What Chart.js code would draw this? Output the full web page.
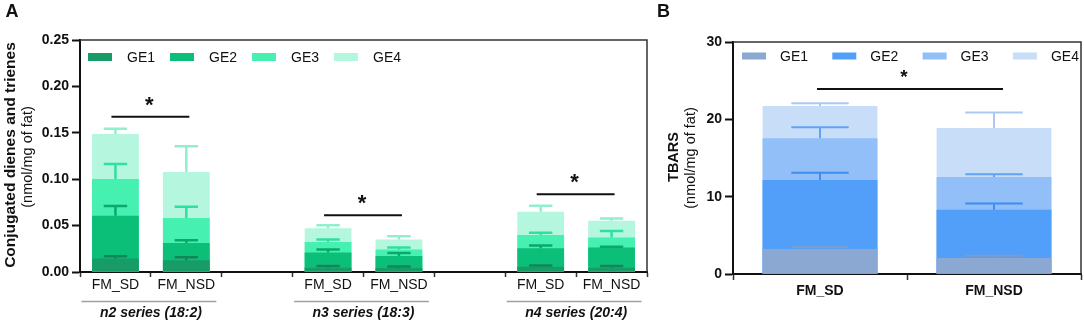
<!DOCTYPE html>
<html>
<head>
<meta charset="utf-8">
<script src="https://cdn.jsdelivr.net/npm/chart.js@4.4.1/dist/chart.umd.min.js"></script>
<style>
  html, body { margin: 0; padding: 0; background: #fff; }
  #wrap { position: relative; width: 1084px; height: 326px; overflow: hidden; }
  .pane { position: absolute; top: 0; height: 326px; }
  #pa { left: 0; width: 660px; }
  #pb { left: 655px; width: 429px; }
</style>
</head>
<body>
<div id="wrap">
  <div class="pane" id="pa"><canvas id="ca" width="660" height="326"></canvas></div>
  <div class="pane" id="pb"><canvas id="cb" width="429" height="326"></canvas></div>
</div>
<script>
/* panel A: conjugated dienes and trienes, panel B: TBARS */
const FONT = '"Liberation Sans", Arial, Helvetica, sans-serif';
const seriesNames = ["GE1", "GE2", "GE3", "GE4"];

// panel A (bars overlap, values are the top of each layer)
const catsA = ["FM_SD", "FM_NSD", "", "FM_SD", "FM_NSD", "", "FM_SD", "FM_NSD"];
const groupsA = ["n2 series (18:2)", "n3 series (18:3)", "n4 series (20:4)"];
const ticksA = [0, 0.05, 0.1, 0.15, 0.2, 0.25];
const ge1A = [0.0145, 0.0126, null, 0.0047, 0.0043, null, 0.0056, 0.0047];
const ge2A = [0.0605, 0.0313, null, 0.0210, 0.0173, null, 0.0255, 0.0263];
const ge3A = [0.1001, 0.0583, null, 0.0324, 0.0242, null, 0.0398, 0.0371];
const ge4A = [0.1487, 0.1077, null, 0.0472, 0.0350, null, 0.0648, 0.0551];
const sd1A = [0.0025, 0.0033, null, 0.0018, 0.0015, null, 0.0014, 0.0018];
const sd2A = [0.0105, 0.0029, null, 0.0032, 0.0032, null, 0.0030, 0.0008];
const sd3A = [0.0162, 0.0119, null, 0.0026, 0.0021, null, 0.0025, 0.0072];
const sd4A = [0.0057, 0.0277, null, 0.0032, 0.0036, null, 0.0065, 0.0026];
const sigA = [[0, 1, 0.1674], [3, 4, 0.0612], [6, 7, 0.0839]];

// panel B
const catsB = ["FM_SD", "FM_NSD"];
const ticksB = [0, 10, 20, 30];
const ge1B = [3.22, 2.06];
const ge2B = [12.15, 8.32];
const ge3B = [17.54, 12.54];
const ge4B = [21.72, 18.87];
const sd1B = [0.26, 0.31];
const sd2B = [0.95, 0.81];
const sd3B = [1.43, 0.35];
const sd4B = [0.35, 2.00];
const sigB = [[0, 1, 23.92]];

const greens = ["#179c68", "#0bbf78", "#45f0b0", "#b5f6de"];
const greensErr = ["#12865a", "#0aa86a", "#30e0a0", "#8ff0cb"];
const blues = ["#8aa8d2", "#529ff9", "#92bff7", "#c8ddf8"];
const bluesErr = ["#7d9cc8", "#3d8ef0", "#5ea4f5", "#a9c9f3"];

const overlay = {
  id: "overlay",
  afterDatasetsDraw(chart, args, o) {
    const ctx = chart.ctx, y = chart.scales.y;
    ctx.save();
    chart.data.datasets.forEach((ds, i) => {
      const meta = chart.getDatasetMeta(i);
      ctx.strokeStyle = o.errColors[i];
      ctx.lineWidth = o.errWidth;
      ds.data.forEach((v, j) => {
        if (v == null) return;
        const bar = meta.data[j];
        const y0 = y.getPixelForValue(v), y1 = y.getPixelForValue(v + o.errors[i][j]);
        const hw = bar.width / 4;
        ctx.beginPath();
        ctx.moveTo(bar.x, y0); ctx.lineTo(bar.x, y1);
        ctx.moveTo(bar.x - hw, y1); ctx.lineTo(bar.x + hw, y1);
        ctx.stroke();
      });
    });
    ctx.restore();
  },
  afterDraw(chart, args, o) {
    const ctx = chart.ctx, a = chart.chartArea, x = chart.scales.x, y = chart.scales.y;
    ctx.save();
    // box top + right
    ctx.strokeStyle = "#333"; ctx.lineWidth = 1.5;
    ctx.beginPath();
    ctx.moveTo(a.left, a.top); ctx.lineTo(a.right, a.top); ctx.lineTo(a.right, a.bottom);
    ctx.stroke();

    // legend inside plot
    const L = o.legend;
    ctx.font = "14px " + FONT; ctx.textBaseline = "middle"; ctx.textAlign = "left";
    chart.data.datasets.forEach((ds, i) => {
      const bx = a.left + L.x0 + i * L.step, by = a.top + L.dy;
      ctx.fillStyle = ds.backgroundColor;
      ctx.fillRect(bx, by - L.h / 2, 24, L.h);
      ctx.fillStyle = "#111";
      ctx.fillText(ds.label, bx + L.tx, by + 1);
    });

    // significance lines
    ctx.strokeStyle = "#111"; ctx.fillStyle = "#111"; ctx.lineWidth = 2;
    o.sig.forEach(([i0, i1, v]) => {
      const x0 = x.getPixelForTick(i0) + o.sigPad[0], x1 = x.getPixelForTick(i1) + o.sigPad[1];
      const ly = y.getPixelForValue(v);
      ctx.beginPath(); ctx.moveTo(x0, ly); ctx.lineTo(x1, ly); ctx.stroke();
      ctx.font = "bold " + o.starSize + "px " + FONT;
      ctx.textAlign = "center"; ctx.textBaseline = "alphabetic";
      ctx.fillText("*", (x0 + x1) / 2 + o.starDx, ly - o.starLift);
    });

    // group labels under the axis
    if (o.groups) {
      o.groups.forEach((g, k) => {
        const c0 = x.getPixelForTick(3 * k), c1 = x.getPixelForTick(3 * k + 1);
        ctx.strokeStyle = "#a0a0a0"; ctx.lineWidth = 1.5;
        ctx.beginPath(); ctx.moveTo(c0 - 34, 301.5); ctx.lineTo(c1 + 30, 301.5); ctx.stroke();
        ctx.fillStyle = "#111";
        ctx.font = "italic bold 14px " + FONT;
        ctx.textAlign = "center"; ctx.textBaseline = "middle";
        ctx.fillText(g, (c0 + c1) / 2, 313);
      });
    }

    // y titles + panel letter
    ctx.fillStyle = "#111"; ctx.textAlign = "center"; ctx.textBaseline = "middle";
    o.titles.forEach((t) => {
      ctx.save();
      ctx.translate(t.x, t.y); ctx.rotate(-Math.PI / 2);
      ctx.font = t.font + " " + FONT;
      ctx.fillText(t.text, 0, 0);
      ctx.restore();
    });
    ctx.font = "bold 18px " + FONT;
    ctx.fillText(o.letter[0], o.letter[1], o.letter[2]);
    ctx.restore();
  },
};

function makeSets(vals, colors) {
  return vals.map((d, i) => ({
    label: seriesNames[i],
    data: d,
    backgroundColor: colors[i],
    borderWidth: 0,
    grouped: false,
    barPercentage: 0.66,
    categoryPercentage: 1,
  }));
}

function baseScales(cats, min, max, step, yw, xh, xBold, fmt, xTick) {
  return {
    x: {
      type: "category",
      labels: cats,
      offset: true,
      grid: { display: true, drawOnChartArea: false, tickLength: xTick, tickWidth: 1.5, tickColor: "#333" },
      border: { color: "#111", width: 2 },
      ticks: { autoSkip: false, maxRotation: 0, padding: xBold ? 3 : 0, color: "#111",
        font: { family: FONT, size: 14, weight: xBold ? "bold" : "normal" } },
      afterFit: (s) => { s.height = xh; },
    },
    y: {
      min: min, max: max,
      grid: { display: true, drawOnChartArea: false, tickLength: 8, tickWidth: 2, tickColor: "#111" },
      border: { color: "#111", width: 2 },
      ticks: { stepSize: step, color: "#111", padding: 3, font: { family: FONT, size: 14, weight: "bold" }, callback: fmt },
      afterFit: (s) => { s.width = yw; },
    },
  };
}

const common = {
  responsive: false,
  animation: false,
  devicePixelRatio: 1,
};

new Chart(document.getElementById("ca"), {
  type: "bar",
  data: { labels: catsA, datasets: makeSets([ge1A, ge2A, ge3A, ge4A], greens) },
  options: Object.assign({}, common, {
    layout: { padding: { top: 40, right: 13, left: 0, bottom: 0 } },
    scales: baseScales(catsA, ticksA[0], ticksA[ticksA.length - 1], 0.05, 80, 54, false, (v) => v.toFixed(2), 5),
    plugins: {
      legend: { display: false },
      tooltip: { enabled: false },
      overlay: {
        errors: [sd1A, sd2A, sd3A, sd4A],
        errColors: greensErr,
        errWidth: 2.5,
        legend: { x0: 8, step: 82, dy: 17, h: 8, tx: 39 },
        sig: sigA, sigPad: [-4, 3], starSize: 22, starLift: 5, starDx: -1,
        groups: groupsA,
        titles: [
          { text: "Conjugated dienes and trienes", x: 11, y: 155, font: "bold 15.5px" },
          { text: "(nmol/mg of fat)", x: 28, y: 157, font: "14.5px" },
        ],
        letter: ["A", 12, 12],
      },
    },
  }),
  plugins: [overlay],
});

new Chart(document.getElementById("cb"), {
  type: "bar",
  data: { labels: catsB, datasets: makeSets([ge1B, ge2B, ge3B, ge4B], blues) },
  options: Object.assign({}, common, {
    layout: { padding: { top: 42, right: 3, left: 0, bottom: 0 } },
    scales: baseScales(catsB, ticksB[0], ticksB[ticksB.length - 1], 10, 78, 52, true, (v) => v, 6),
    plugins: {
      legend: { display: false },
      tooltip: { enabled: false },
      overlay: {
        errors: [sd1B, sd2B, sd3B, sd4B],
        errColors: bluesErr,
        errWidth: 2,
        legend: { x0: 9, step: 90.3, dy: 14, h: 7, tx: 38 },
        sig: sigB, sigPad: [-3, 9], starSize: 19, starLift: 6, starDx: -6,
        groups: null,
        titles: [
          { text: "TBARS", x: 19, y: 157, font: "bold 14.5px" },
          { text: "(nmol/mg of fat)", x: 36, y: 158, font: "14.5px" },
        ],
        letter: ["B", 8.5, 12],
      },
    },
  }),
  plugins: [overlay],
});
</script>
</body>
</html>
